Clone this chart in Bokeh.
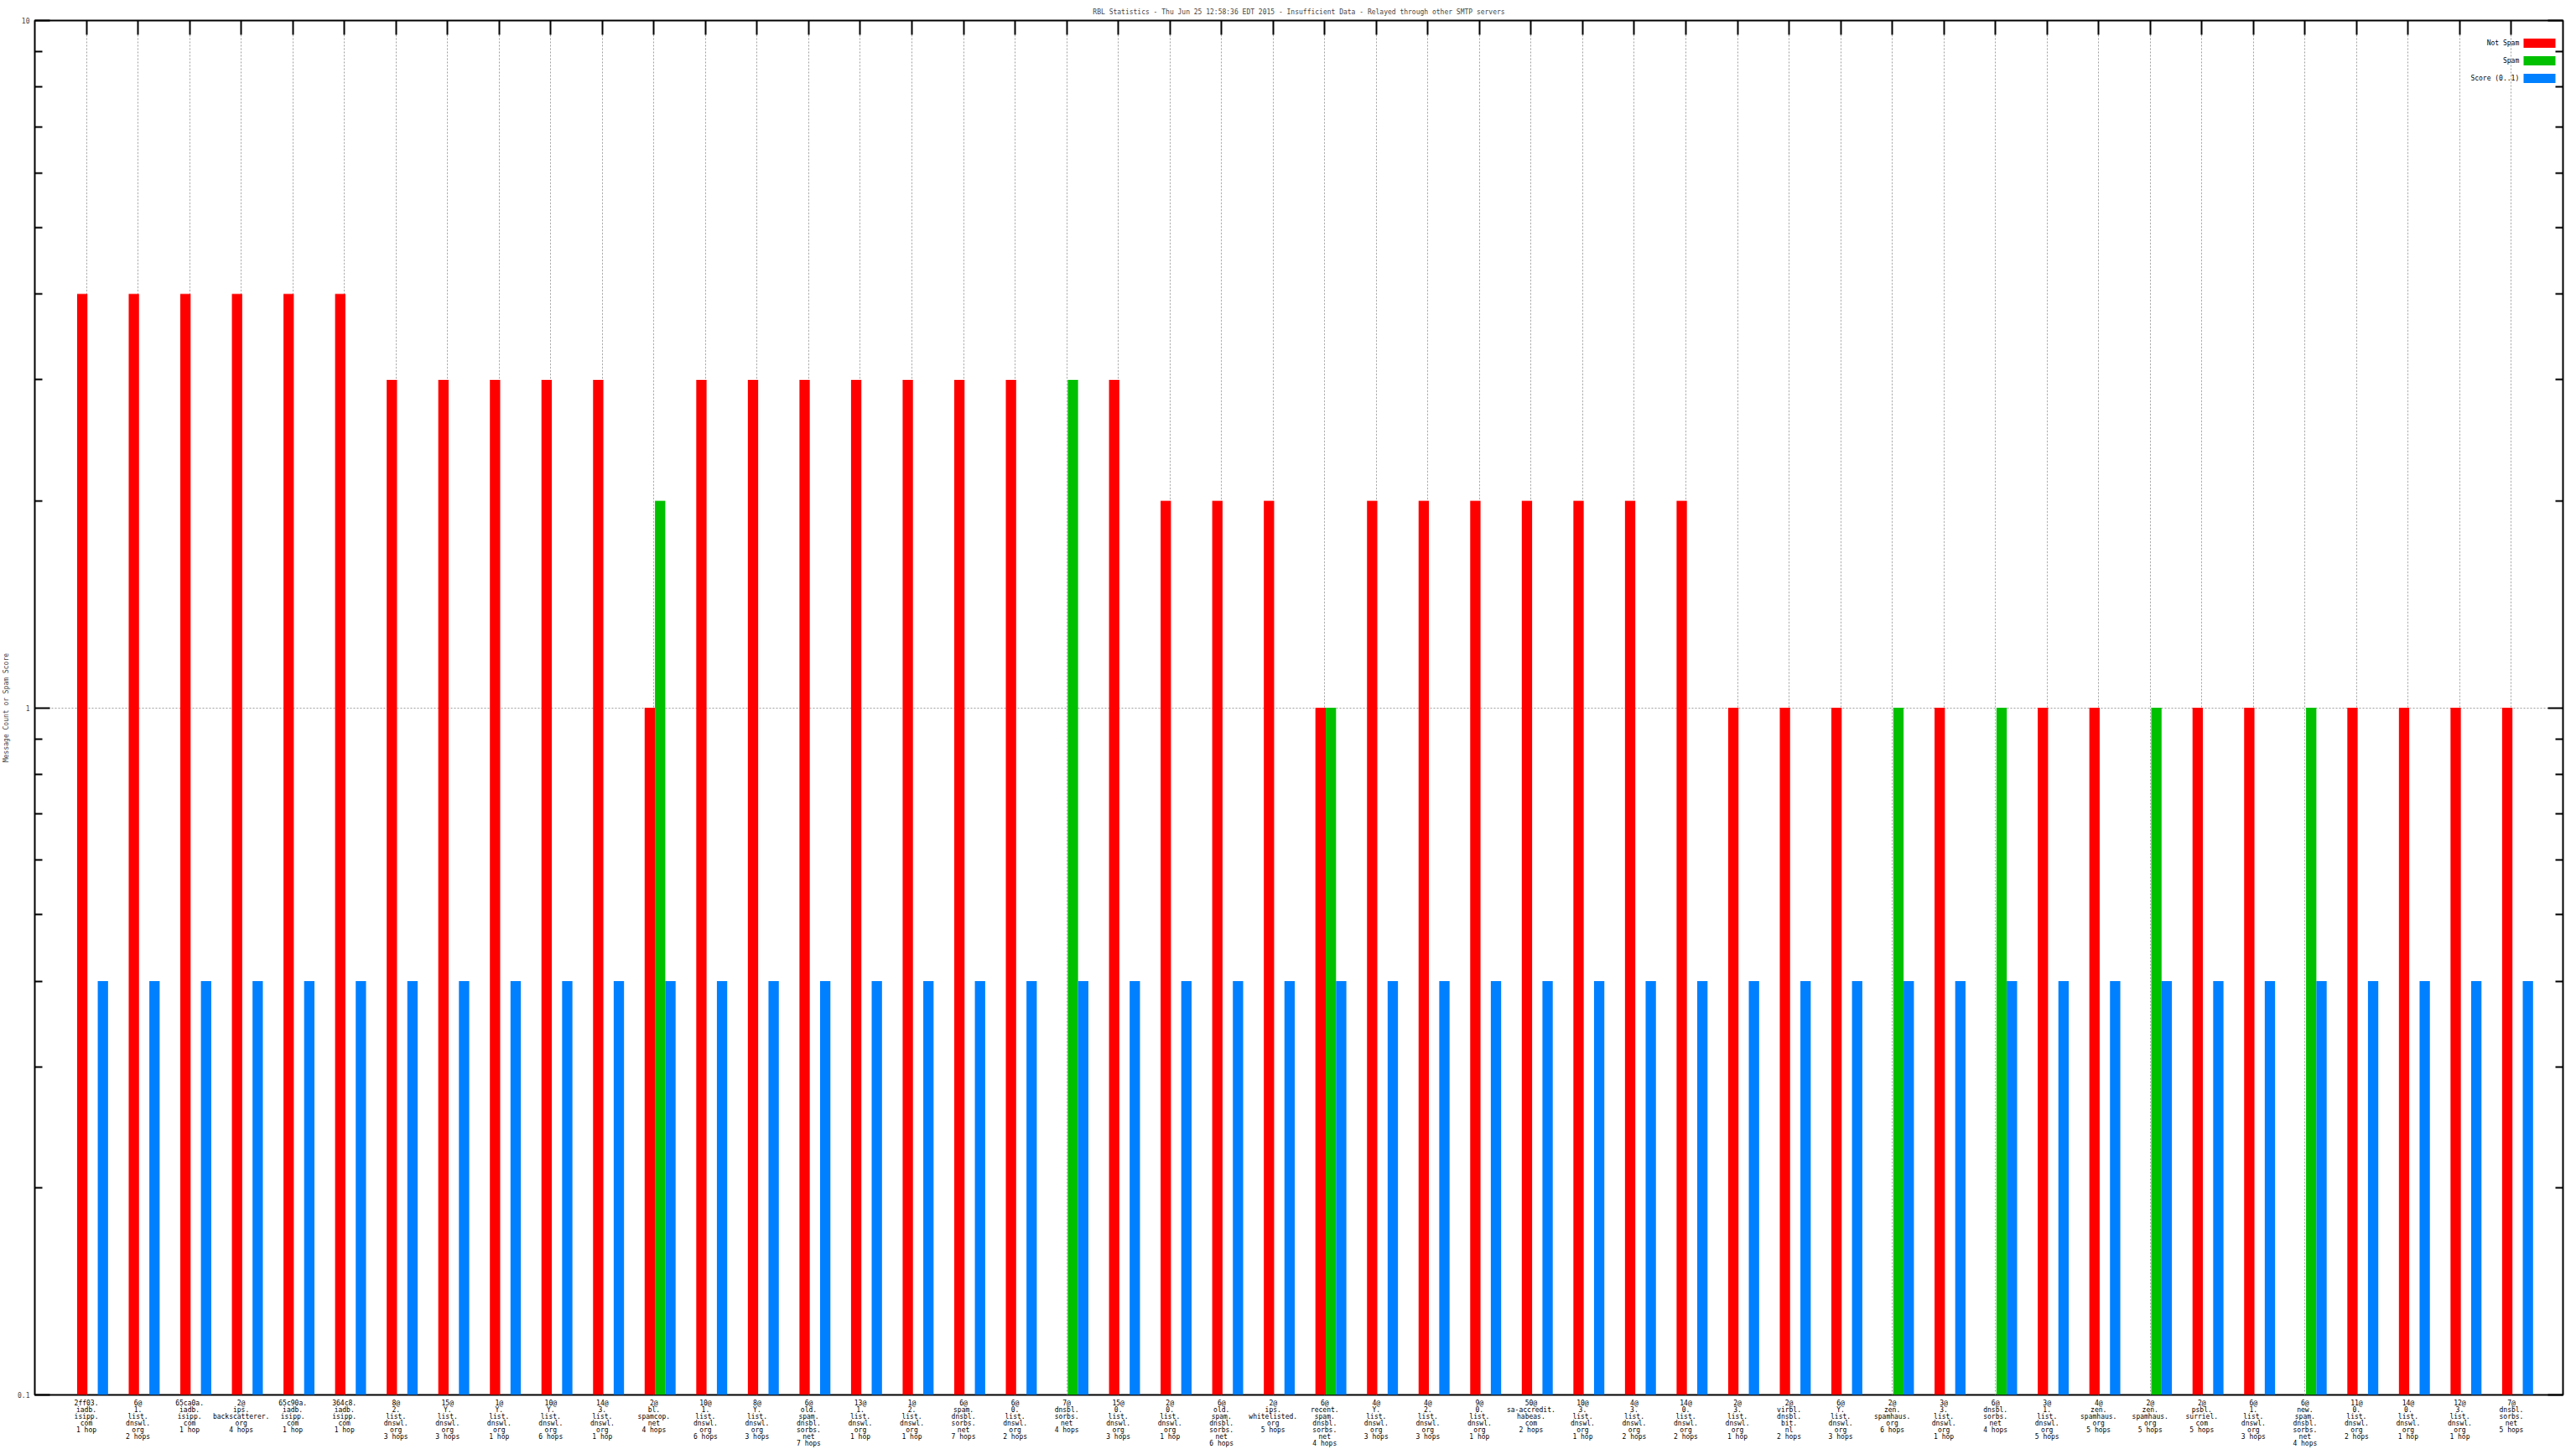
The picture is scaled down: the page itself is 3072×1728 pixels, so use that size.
from bokeh.plotting import figure
from bokeh.layouts import column
from bokeh.models import FixedTicker, LinearAxis, LogAxis, Range1d
from bokeh.embed import file_html
from bokeh.resources import INLINE
from bokeh.core.properties import value

TITLE = ("RBL Statistics - Thu Jun 25 12:58:36 EDT 2015 - Insufficient Data - "
         "Relayed through other SMTP servers")
Y_LABEL = "Message Count or Spam Score"

labels = [
    "2ff03.\niadb.\nisipp.\ncom\n1 hop",
    "6@\n1.\nlist.\ndnswl.\norg\n2 hops",
    "65ca0a.\niadb.\nisipp.\ncom\n1 hop",
    "2@\nips.\nbackscatterer.\norg\n4 hops",
    "65c90a.\niadb.\nisipp.\ncom\n1 hop",
    "364c8.\niadb.\nisipp.\ncom\n1 hop",
    "8@\n2.\nlist.\ndnswl.\norg\n3 hops",
    "15@\nY.\nlist.\ndnswl.\norg\n3 hops",
    "1@\nY.\nlist.\ndnswl.\norg\n1 hop",
    "10@\nY.\nlist.\ndnswl.\norg\n6 hops",
    "14@\n3.\nlist.\ndnswl.\norg\n1 hop",
    "2@\nbl.\nspamcop.\nnet\n4 hops",
    "10@\n1.\nlist.\ndnswl.\norg\n6 hops",
    "8@\nY.\nlist.\ndnswl.\norg\n3 hops",
    "6@\nold.\nspam.\ndnsbl.\nsorbs.\nnet\n7 hops",
    "13@\n1.\nlist.\ndnswl.\norg\n1 hop",
    "1@\n2.\nlist.\ndnswl.\norg\n1 hop",
    "6@\nspam.\ndnsbl.\nsorbs.\nnet\n7 hops",
    "6@\n0.\nlist.\ndnswl.\norg\n2 hops",
    "7@\ndnsbl.\nsorbs.\nnet\n4 hops",
    "15@\n0.\nlist.\ndnswl.\norg\n3 hops",
    "2@\n0.\nlist.\ndnswl.\norg\n1 hop",
    "6@\nold.\nspam.\ndnsbl.\nsorbs.\nnet\n6 hops",
    "2@\nips.\nwhitelisted.\norg\n5 hops",
    "6@\nrecent.\nspam.\ndnsbl.\nsorbs.\nnet\n4 hops",
    "4@\nY.\nlist.\ndnswl.\norg\n3 hops",
    "4@\n2.\nlist.\ndnswl.\norg\n3 hops",
    "9@\n0.\nlist.\ndnswl.\norg\n1 hop",
    "50@\nsa-accredit.\nhabeas.\ncom\n2 hops",
    "10@\n3.\nlist.\ndnswl.\norg\n1 hop",
    "4@\n3.\nlist.\ndnswl.\norg\n2 hops",
    "14@\n0.\nlist.\ndnswl.\norg\n2 hops",
    "2@\n3.\nlist.\ndnswl.\norg\n1 hop",
    "2@\nvirbl.\ndnsbl.\nbit.\nnl\n2 hops",
    "6@\nY.\nlist.\ndnswl.\norg\n3 hops",
    "2@\nzen.\nspamhaus.\norg\n6 hops",
    "3@\n3.\nlist.\ndnswl.\norg\n1 hop",
    "6@\ndnsbl.\nsorbs.\nnet\n4 hops",
    "3@\n1.\nlist.\ndnswl.\norg\n5 hops",
    "4@\nzen.\nspamhaus.\norg\n5 hops",
    "2@\nzen.\nspamhaus.\norg\n5 hops",
    "2@\npsbl.\nsurriel.\ncom\n5 hops",
    "6@\n1.\nlist.\ndnswl.\norg\n3 hops",
    "6@\nnew.\nspam.\ndnsbl.\nsorbs.\nnet\n4 hops",
    "11@\n0.\nlist.\ndnswl.\norg\n2 hops",
    "14@\n0.\nlist.\ndnswl.\norg\n1 hop",
    "12@\n3.\nlist.\ndnswl.\norg\n1 hop",
    "7@\ndnsbl.\nsorbs.\nnet\n5 hops",
]

not_spam = [4, 4, 4, 4, 4, 4, 3, 3, 3, 3, 3, 1, 3, 3, 3, 3, 3, 3, 3, 0,
            3, 2, 2, 2, 1, 2, 2, 2, 2, 2, 2, 2, 1, 1, 1, 0, 1, 0, 1, 1,
            0, 1, 1, 0, 1, 1, 1, 1]
spam = [0, 0, 0, 0, 0, 0, 0, 0, 0, 0, 0, 2, 0, 0, 0, 0, 0, 0, 0, 3,
        0, 0, 0, 0, 1, 0, 0, 0, 0, 0, 0, 0, 0, 0, 0, 1, 0, 1, 0, 0,
        1, 0, 0, 1, 0, 0, 0, 0]
score = [0.4] * 48

series_names = ["Not Spam", "Spam", "Score (0..1)"]
series_colors = ["#ff0000", "#00c000", "#0080ff"]
y_ticks = [0.1, 1, 10]
y_tick_labels = ["0.1", "1", "10"]
y_minor = [0.2, 0.3, 0.4, 0.5, 0.6, 0.7, 0.8, 0.9, 2, 3, 4, 5, 6, 7, 8, 9]

FONT = "DejaVu Sans Mono"
FS = "8px"

n = len(labels)
xs = list(range(n))

W = 3064
MAIN_H = 1668
LABEL_H = 60
p = figure(width=W, height=MAIN_H, output_backend="svg",
           toolbar_location=None, y_axis_type="log", x_range=Range1d(-1, n),
           y_range=Range1d(0.1, 10), min_border_left=40, min_border_right=8,
           min_border_top=24, min_border_bottom=5, title=TITLE)
p.title.align = "center"
p.title.text_font = FONT
p.title.text_font_size = FS
p.title.text_font_style = "normal"
p.title.standoff = 12
p.title.offset = 0

p.outline_line_color = "black"
p.outline_line_width = 2
p.background_fill_color = "white"
p.border_fill_color = "white"

# bars
offsets = [-0.08, 0.12, 0.32]
for vals, off, col in zip([not_spam, spam, score], offsets, series_colors):
    bx = [x + off for x, v in zip(xs, vals) if v > 0]
    bt = [v for v in vals if v > 0]
    p.vbar(x=bx, top=bt, bottom=0.1, width=0.2, fill_color=col, line_color=None)

# bottom axis hidden (labels drawn in strip below, sharing the x range)
p.xaxis.visible = False

# top x axis (mirror tics)
ta = LinearAxis(ticker=FixedTicker(ticks=xs, minor_ticks=[]))
ta.major_label_overrides = {i: "" for i in xs}
ta.major_label_text_font_size = "0px"
ta.major_label_standoff = 0
ta.axis_label_standoff = 0
ta.major_tick_in = 17
ta.major_tick_out = 0
ta.major_tick_line_width = 2
ta.major_tick_line_color = "black"
ta.axis_line_color = None
p.add_layout(ta, "above")

# left y axis
ya = p.yaxis[0]
ya.ticker = FixedTicker(ticks=y_ticks, minor_ticks=y_minor)
ya.major_label_overrides = {t: s for t, s in zip(y_ticks, y_tick_labels)}
ya.major_label_text_font = FONT
ya.major_label_text_font_size = FS
ya.major_label_standoff = 6
ya.major_tick_in = 18
ya.major_tick_out = 0
ya.minor_tick_in = 9
ya.minor_tick_out = 0
ya.major_tick_line_width = 2
ya.minor_tick_line_width = 2
ya.axis_line_color = None
ya.axis_label = Y_LABEL
ya.axis_label_text_font = FONT
ya.axis_label_text_font_size = FS
ya.axis_label_text_font_style = "normal"
ya.axis_label_standoff = 6

# right y axis (mirror tics)
ra = LogAxis(ticker=FixedTicker(ticks=y_ticks, minor_ticks=y_minor))
ra.major_label_overrides = {t: "" for t in y_ticks}
ra.major_label_text_font_size = "0px"
ra.major_label_standoff = 0
ra.axis_label_standoff = 0
ra.major_tick_in = 18
ra.major_tick_out = 0
ra.minor_tick_in = 9
ra.minor_tick_out = 0
ra.major_tick_line_width = 2
ra.minor_tick_line_width = 2
ra.axis_line_color = None
p.add_layout(ra, "right")

# grids
p.xgrid.ticker = FixedTicker(ticks=xs)
p.xgrid.grid_line_color = "#a0a0a0"
p.xgrid.grid_line_dash = "2 2"
p.xgrid.grid_line_width = 1
p.ygrid.ticker = FixedTicker(ticks=[1])
p.ygrid.grid_line_color = "#a0a0a0"
p.ygrid.grid_line_dash = "2 2"
p.ygrid.grid_line_width = 1

# legend (gnuplot style: text left, swatch right), top-right inside frame
leg_y = [9.27, 8.74, 8.24]
p.text(x=[47.15] * 3, y=leg_y, text=series_names, text_align="right",
       text_baseline="middle", text_font=value(FONT), text_font_size=FS,
       text_color="black")
p.rect(x=[47.545] * 3, y=leg_y, width=38, height=11, width_units="screen",
       height_units="screen", fill_color=series_colors, line_color=None)

# strip below the plot holding the multi-line category labels (shared x range)
pl = figure(width=W, height=LABEL_H, output_backend="svg", toolbar_location=None,
            x_range=p.x_range, y_range=Range1d(LABEL_H, 0),
            min_border_left=40, min_border_right=8, min_border_top=0,
            min_border_bottom=0, x_axis_location=None, y_axis_location=None)
pl.outline_line_color = None
pl.xgrid.visible = False
pl.ygrid.visible = False
pl.background_fill_color = "white"
pl.border_fill_color = "white"
pl.text(x=xs, y=[0] * n, text=labels, text_align="center", text_baseline="top",
        text_font=value(FONT), text_font_size=FS, text_line_height=0.9,
        text_color="black")

layout = column(p, pl, spacing=0)
open("out.html", "w").write(file_html(layout, INLINE))
